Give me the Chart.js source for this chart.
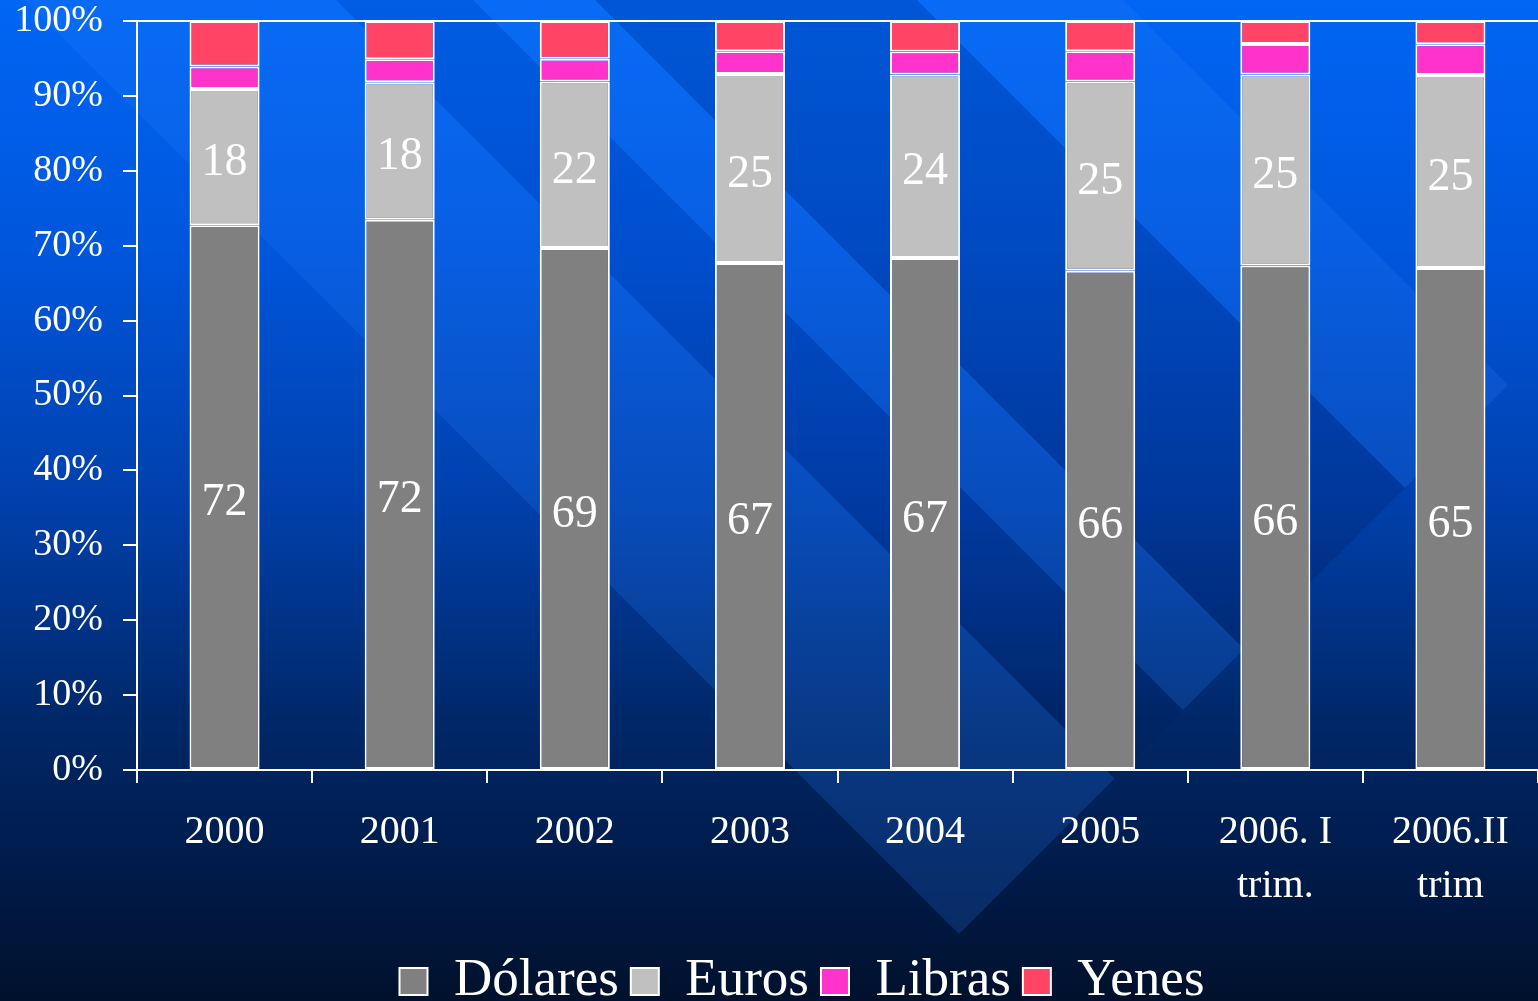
<!DOCTYPE html>
<html>
<head>
<meta charset="utf-8">
<script src="https://cdn.jsdelivr.net/npm/chart.js@4"></script>
<style>
  html, body { margin: 0; padding: 0; background: #00122f; overflow: hidden; }
  canvas { display: block; }
</style>
</head>
<body>
<canvas id="grafico" width="1538" height="1001"></canvas>
<script>
// Composición por monedas (valores originales, se normalizan a 100%)
const categorias = ['2000', '2001', '2002', '2003', '2004', '2005', ['2006. I', 'trim.'], ['2006.II', 'trim']];
const dolares = [72, 72, 69, 67, 67, 66, 66, 65];
const euros   = [18, 18, 22, 25, 24, 25, 25, 25];
const libras  = [3, 3, 3, 3, 3, 4, 4, 4];
const yenes   = [6, 5, 5, 4, 4, 4, 3, 3];
const ticksY  = [0, 10, 20, 30, 40, 50, 60, 70, 80, 90, 100];

const totales = categorias.map((_, i) => dolares[i] + euros[i] + libras[i] + yenes[i]);
const pct = serie => serie.map((v, i) => v / totales[i] * 100);

const FUENTE = "'Liberation Serif', 'Times New Roman', serif";

/**
 * Fondo azul con franjas diagonales (estilo plantilla de presentación)
 */
const fondoPlugin = {
    id: 'fondo',
    beforeDraw(chart) {
        const { ctx, width, height } = chart;
        ctx.save();
        const g = ctx.createLinearGradient(0, 0, 0, height);
        g.addColorStop(0, '#0066f4');
        g.addColorStop(0.25, '#0056dc');
        g.addColorStop(0.5, '#0040ac');
        g.addColorStop(0.72, '#002868');
        g.addColorStop(0.88, '#001a48');
        g.addColorStop(1, '#00112c');
        ctx.fillStyle = g;
        ctx.fillRect(0, 0, width, height);

        // franjas a 45 grados, cortadas en la recta x + y = 1893
        const corte = 1893;
        const franja = (a, b, color) => {
            ctx.beginPath();
            ctx.moveTo((corte + a) / 2, (corte - a) / 2);
            ctx.lineTo((corte + b) / 2, (corte - b) / 2);
            ctx.lineTo((-1500 + b) / 2, (-1500 - b) / 2);
            ctx.lineTo((-1500 + a) / 2, (-1500 - a) / 2);
            ctx.closePath();
            ctx.fillStyle = color;
            ctx.fill();
        };
        franja(25, 336, 'rgba(40,130,255,0.20)');
        franja(336, 473, 'rgba(0,20,90,0.10)');
        franja(473, 595, 'rgba(40,130,255,0.20)');
        franja(595, 917, 'rgba(0,10,60,0.16)');
        franja(917, 1123, 'rgba(40,130,255,0.20)');
        ctx.restore();
    }
};

/**
 * Etiquetas de valor dentro de las barras (Dólares y Euros)
 */
const etiquetasPlugin = {
    id: 'etiquetas',
    afterDatasetsDraw(chart) {
        const { ctx } = chart;
        const series = [dolares, euros];
        ctx.save();
        ctx.font = `46px ${FUENTE}`;
        ctx.fillStyle = '#ffffff';
        ctx.textAlign = 'center';
        ctx.textBaseline = 'middle';
        series.forEach((serie, d) => {
            chart.getDatasetMeta(d).data.forEach((bar, i) => {
                const y = (bar.y + bar.base) / 2;
                ctx.fillText(String(serie[i]), bar.x, y + 6);
            });
        });
        ctx.restore();
    }
};

// desplaza la leyenda para situarla como en el original
const leyendaPlugin = {
    id: 'leyendaDesplazada',
    afterLayout(chart) {
        const l = chart.legend;
        if (l) {
            l.left += 33; l.right += 33;
            l.top += 17; l.bottom += 17;
        }
    }
};

const ctx = document.getElementById('grafico').getContext('2d');

const comun = { borderColor: '#ffffff', borderWidth: 2, borderSkipped: false, barPercentage: 0.4, categoryPercentage: 1.0 };

new Chart(ctx, {
    type: 'bar',
    data: {
        labels: categorias,
        datasets: [
            { label: 'Dólares', data: pct(dolares), backgroundColor: '#808080', ...comun },
            { label: 'Euros',   data: pct(euros),   backgroundColor: '#c0c0c0', ...comun },
            { label: 'Libras',  data: pct(libras),  backgroundColor: '#ff33cc', ...comun },
            { label: 'Yenes',   data: pct(yenes),   backgroundColor: '#ff4466', ...comun }
        ]
    },
    options: {
        responsive: false,
        animation: false,
        layout: { padding: 0 },
        plugins: {
            legend: {
                position: 'bottom',
                labels: {
                    color: '#ffffff',
                    font: { family: FUENTE, size: 53 },
                    boxWidth: 28,
                    boxHeight: 27,
                    padding: 12
                }
            },
            tooltip: { enabled: false }
        },
        scales: {
            x: {
                stacked: true,
                afterFit: s => { s.height = 156; },
                border: { color: '#ffffff', width: 2 },
                grid: { drawOnChartArea: false, color: '#ffffff', tickColor: '#ffffff', tickLength: 13, lineWidth: 2, offset: true },
                ticks: { color: '#ffffff', font: { family: FUENTE, size: 40, lineHeight: 1.35 }, padding: 22, maxRotation: 0 }
            },
            y: {
                stacked: true,
                min: 0,
                max: 100,
                afterFit: s => { s.width = 137; s.paddingTop = 21; s.paddingBottom = 0; },
                afterBuildTicks: s => { s.ticks = ticksY.map(v => ({ value: v })); },
                border: { color: '#ffffff', width: 2 },
                grid: {
                    color: c => (c.tick && c.tick.value === 100 ? '#ffffff' : 'rgba(0,0,0,0)'),
                    tickColor: '#ffffff',
                    tickLength: 14,
                    lineWidth: 2
                },
                ticks: {
                    color: '#ffffff',
                    font: { family: FUENTE, size: 38 },
                    padding: 20,
                    callback: v => v + '%'
                }
            }
        }
    },
    plugins: [fondoPlugin, etiquetasPlugin, leyendaPlugin]
});
</script>
</body>
</html>
